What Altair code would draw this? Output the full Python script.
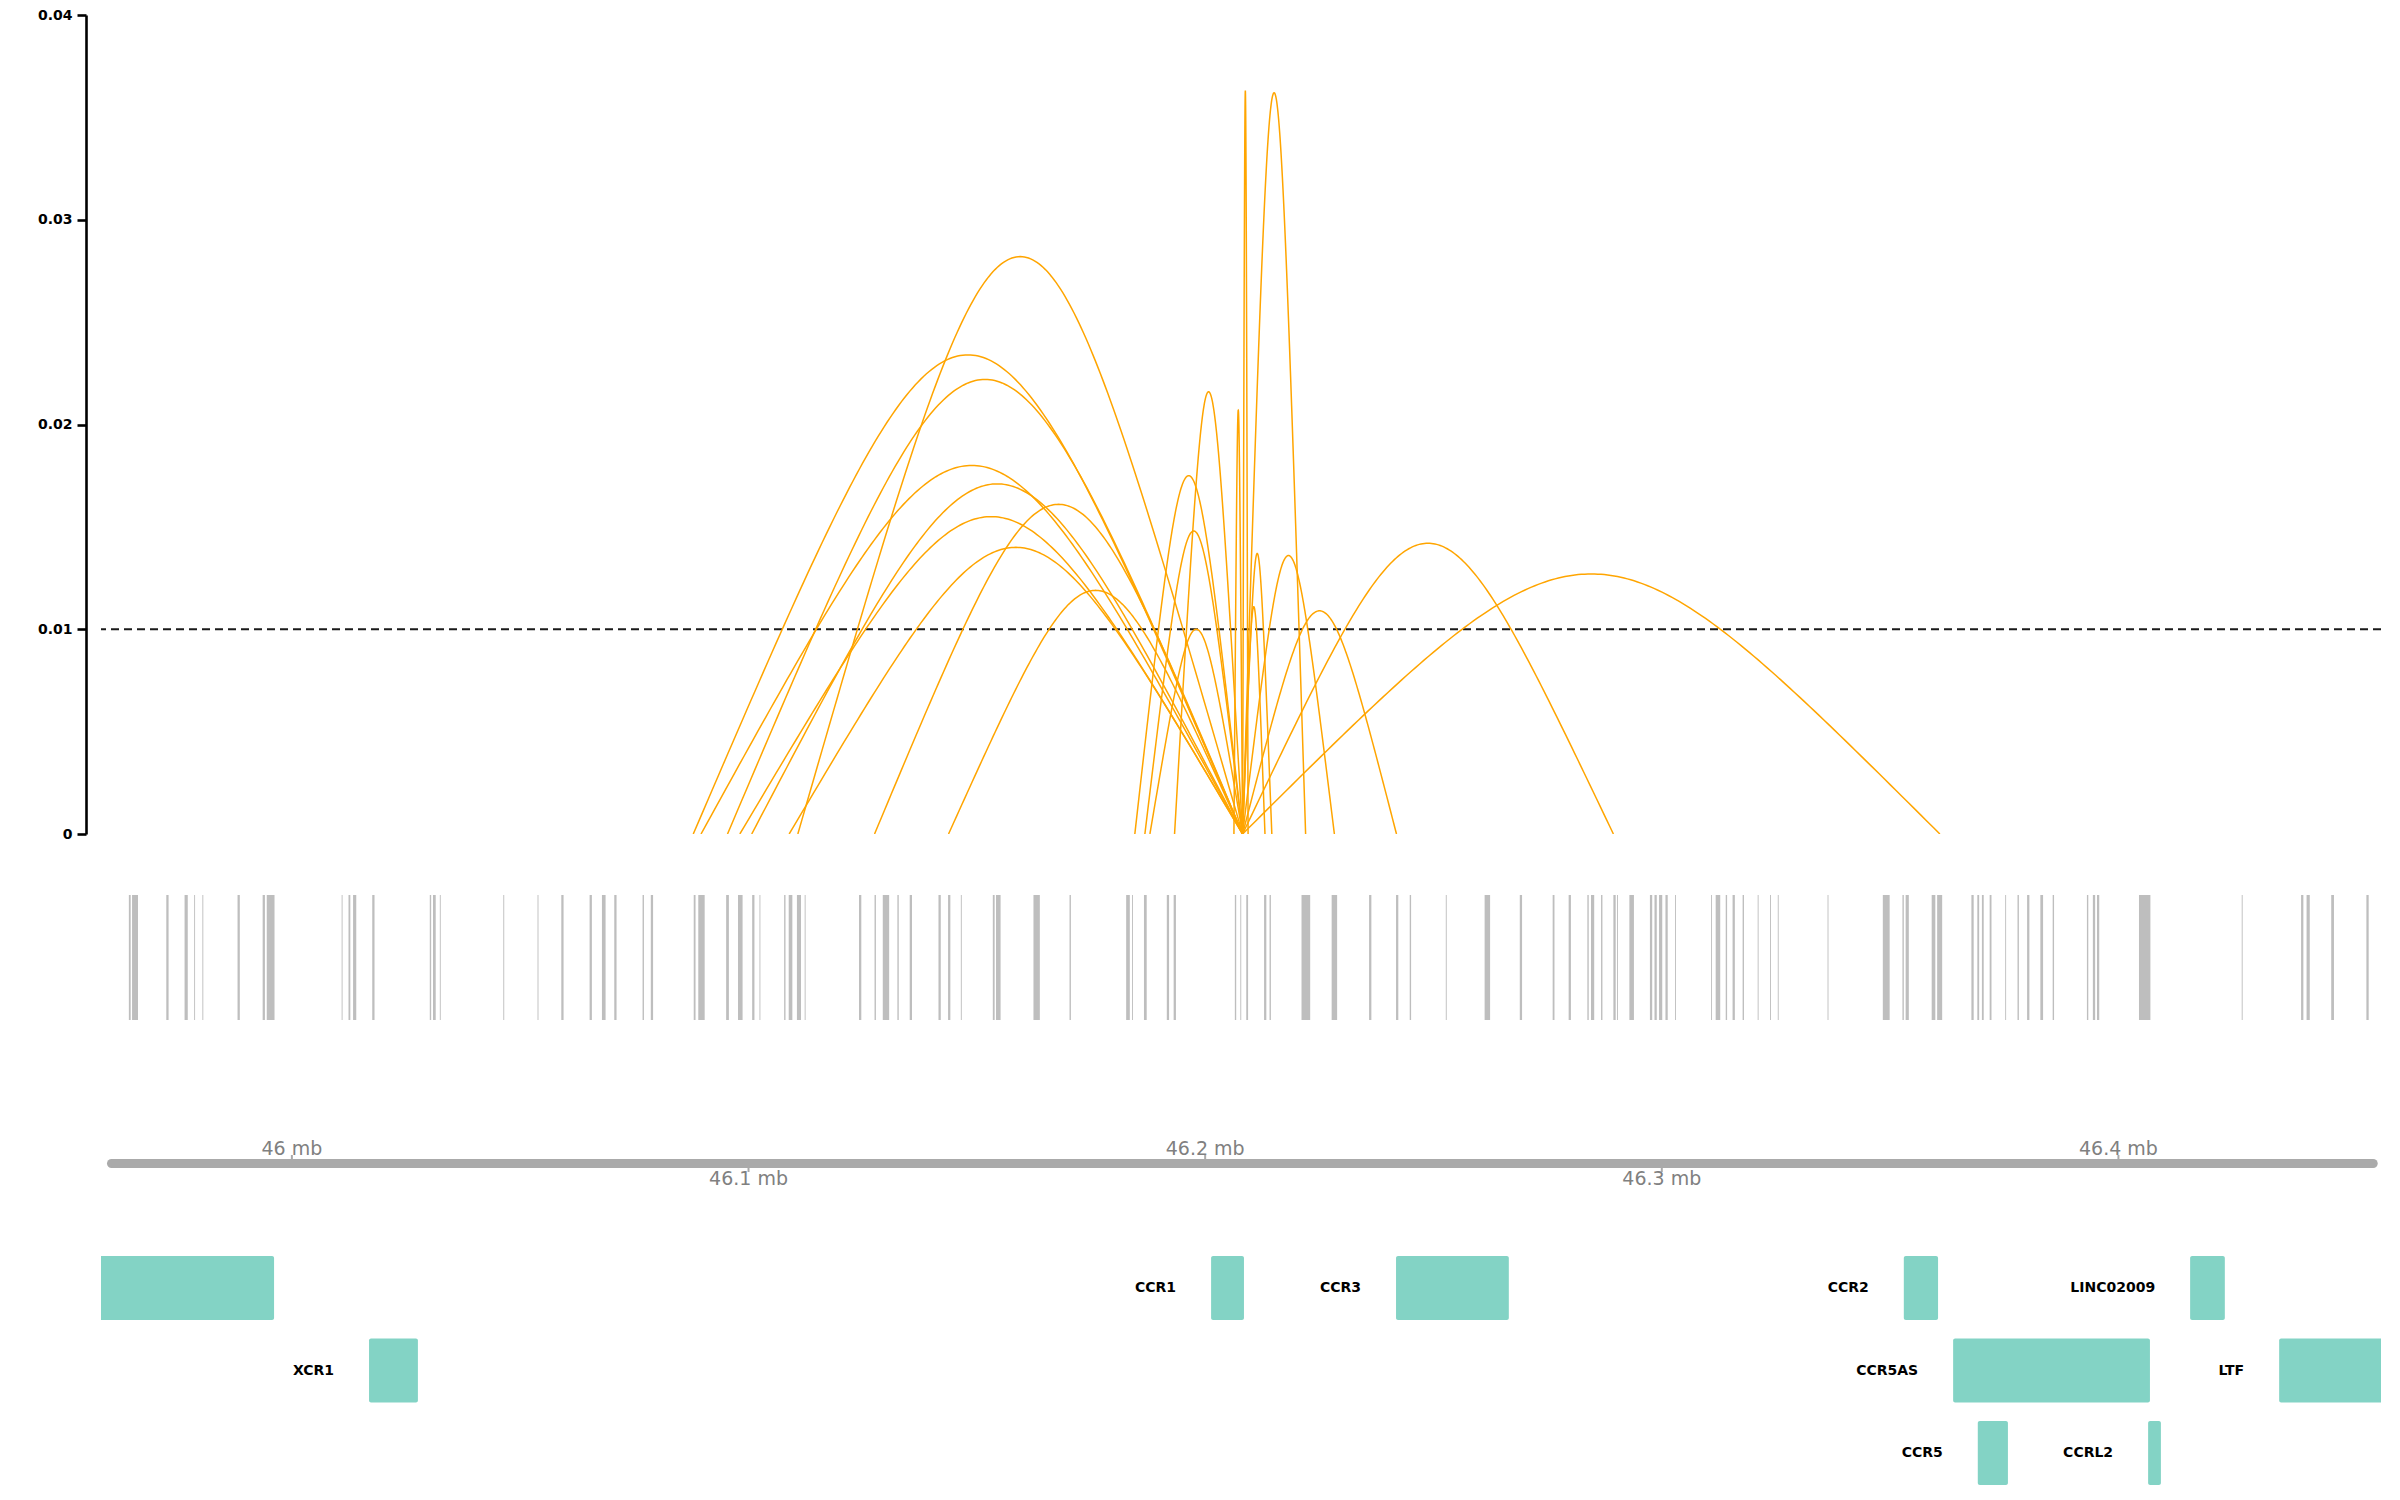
import altair as alt
import numpy as np
import pandas as pd

BASE_KB = 46000.0          # positions below are kb offsets from 46 Mb
X_MIN, X_MAX = -41.8, 457.5

# ---- interaction arcs: every arc shares one anchor -------------------------
anchor_kb = 208.2
arc_other_kb = [87.9, 89.6, 95.4, 98.1, 100.7, 108.9, 110.8, 127.6, 143.8,
                184.6, 186.8, 187.9, 193.3, 206.3, 209.4, 213.1, 214.6,
                222.0, 228.3, 241.9, 289.4, 360.9]
arc_peak = [0.0234, 0.0180, 0.0222, 0.0155, 0.0171, 0.0140, 0.0282, 0.0161, 0.0119,
            0.0175, 0.0148, 0.0100, 0.0216, 0.0207, 0.0363, 0.0111, 0.0137,
            0.0362, 0.0136, 0.0109, 0.0142, 0.0127]
threshold = [0.01]
y_ticks = [0, 0.01, 0.02, 0.03, 0.04]

# ---- variant track (grey bars) ---------------------------------------------
snp_start = [-35.7, -35.0, -27.5, -23.5, -21.4, -19.6, -11.9, -6.4, -5.5, 10.9, 12.4, 13.4,
             17.6, 30.2, 30.9, 32.4, 46.3, 53.8, 59.0, 65.2, 67.9, 70.6, 76.8, 78.6, 88.0,
             89.0, 95.1, 97.7, 100.8, 102.4, 107.8, 108.8, 110.6, 112.3, 124.2, 127.6, 129.4,
             132.6, 135.3, 141.6, 143.7, 146.5, 153.5, 154.2, 162.4, 170.3, 182.7, 184.0,
             186.6, 191.6, 193.1, 206.5, 207.7, 209.0, 212.9, 214.1,
             221.1, 227.7, 235.9, 241.8, 244.8, 252.7, 261.2, 268.9, 276.1, 279.6, 283.7,
             284.5, 286.7, 289.4, 290.2, 292.9, 297.4, 298.4, 299.4, 300.8, 302.9, 310.8,
             311.8, 314.0, 315.5, 317.7, 321.0, 323.7, 325.4, 336.3, 348.4, 352.7, 353.4,
             359.1, 360.3, 367.8, 369.1, 370.1, 371.8, 375.2, 377.9, 380.0, 382.9, 385.6,
             393.1, 394.4, 395.3, 404.5, 427.0, 440.0, 441.2, 446.6, 454.3]
snp_end = [-35.3, -33.7, -27.0, -22.8, -21.2, -19.4, -11.4, -5.9, -3.8, 11.1, 12.8, 14.1,
           18.1, 30.5, 31.5, 32.6, 46.5, 54.0, 59.5, 65.7, 68.7, 71.1, 77.1, 79.1, 88.4,
           90.4, 95.7, 98.7, 101.3, 102.6, 108.1, 109.6, 111.5, 112.5, 124.7, 127.9, 130.8,
           132.9, 135.8, 142.1, 144.2, 146.7, 153.9, 155.2, 163.8, 170.6, 183.5, 184.2,
           187.2, 192.1, 193.6, 206.8, 207.9, 209.4, 213.4, 214.4,
           223.0, 228.9, 236.4, 242.3, 245.1, 252.9, 262.4, 269.4, 276.5, 280.1, 284.0,
           285.2, 287.0, 289.9, 290.4, 293.9, 297.9, 298.9, 300.1, 301.3, 303.1, 311.0,
           312.8, 314.3, 316.0, 318.0, 321.2, 323.9, 325.6, 336.5, 349.9, 353.0, 354.1,
           359.9, 361.4, 368.3, 369.5, 370.5, 372.2, 375.4, 378.2, 380.5, 383.5, 385.9,
           393.4, 394.9, 395.8, 407.0, 427.2, 440.5, 441.9, 447.2, 454.8]

# ---- genome axis -----------------------------------------------------------
axis_start, axis_end = -39.5, 455.8
tick_kb = [0, 100, 200, 300, 400]
tick_label = ["46 mb", "46.1 mb", "46.2 mb", "46.3 mb", "46.4 mb"]
tick_side = [0, 1, 0, 1, 0]          # 0 = label above line, 1 = below

# ---- genes -----------------------------------------------------------------
gene_name = ["FYCO1", "XCR1", "CCR1", "CCR3", "CCR2", "CCR5AS", "CCR5", "CCRL2", "LINC02009", "LTF"]
gene_start = [-82.1, 16.9, 201.3, 241.8, 353.0, 363.8, 369.2, 406.5, 415.7, 435.2]
gene_end = [-3.9, 27.6, 208.5, 266.5, 360.5, 406.9, 375.8, 409.3, 423.3, 485.0]
gene_row = [0, 1, 0, 0, 0, 1, 2, 2, 0, 1]

# ---------------------------------------------------------------------------
t = np.linspace(0.0, 1.0, 161)
rows = []
for i, (o, p) in enumerate(zip(arc_other_kb, arc_peak)):
    a, b = min(o, anchor_kb), max(o, anchor_kb)
    m = (a + b) / 2.0
    h = p / 0.75
    xs = a * (1 - t) ** 3 + 3 * m * t * (1 - t) ** 2 + 3 * m * t ** 2 * (1 - t) + b * t ** 3
    ys = 3 * h * t * (1 - t)
    for tt, xx, yy in zip(t, xs, ys):
        rows.append({"arc": i, "t": tt, "x": BASE_KB + xx, "y": yy})
arc_df = pd.DataFrame(rows)

xdom = [BASE_KB + X_MIN, BASE_KB + X_MAX]
x_scale = alt.Scale(domain=xdom, nice=False, zero=False)
W = 2280
H_TOP = 819
H_BOT = 591
no_frame = alt.ViewBackground(stroke="transparent", strokeWidth=0)

arcs = alt.Chart(arc_df).mark_line(color="#FFA500", strokeWidth=1.5, clip=True).encode(
    x=alt.X("x:Q", scale=x_scale, axis=None),
    y=alt.Y("y:Q", scale=alt.Scale(domain=[0, 0.04], nice=False, zero=True),
            axis=alt.Axis(values=y_ticks, format=".2~f", title=None, grid=False, offset=15,
                          domainColor="black", domainWidth=2.6, tickColor="black", tickWidth=2.6,
                          tickSize=9, labelPadding=5, labelFont="DejaVu Sans", labelFontSize=14,
                          labelFontWeight="bold", labelColor="black")),
    detail="arc:N",
    order="t:Q",
)
thr = alt.Chart(pd.DataFrame({"y": threshold})).mark_rule(
    color="#1a1a1a", strokeDash=[8, 5], strokeWidth=2).encode(y="y:Q")
top = alt.layer(thr, arcs).properties(width=W, height=H_TOP, view=no_frame)

# bottom panel: y in pixels from panel top (layout)
yb = alt.Scale(domain=[0, H_BOT], reverse=True, nice=False, zero=False)

snp_df = pd.DataFrame({"s": [BASE_KB + v for v in snp_start], "e": [BASE_KB + v for v in snp_end]})
snps = alt.Chart(snp_df).mark_rect(color="#bebebe", clip=True).encode(
    x=alt.X("s:Q", scale=x_scale, axis=None), x2="e:Q",
    y=alt.value(0), y2=alt.value(125))

axis_df = pd.DataFrame({"s": [BASE_KB + axis_start], "e": [BASE_KB + axis_end]})
axis_line = alt.Chart(axis_df).mark_rule(color="#aaaaaa", strokeWidth=9, strokeCap="round").encode(
    x=alt.X("s:Q", scale=x_scale, axis=None), x2="e:Q", y=alt.value(268.5))

tick_df = pd.DataFrame({"pos": [BASE_KB + v for v in tick_kb], "label": tick_label, "side": tick_side})
tick_marks = alt.Chart(tick_df).transform_calculate(
    y1="datum.side == 0 ? 260 : 272", y2="datum.side == 0 ? 265 : 277"
).mark_rule(color="#aaaaaa", strokeWidth=2).encode(
    x=alt.X("pos:Q", scale=x_scale, axis=None),
    y=alt.Y("y1:Q", scale=yb, axis=None), y2="y2:Q")
tick_text = alt.Chart(tick_df).transform_calculate(
    ty="datum.side == 0 ? 254 : 284"
).mark_text(font="DejaVu Sans", fontSize=19, color="#808080", align="center", baseline="middle").encode(
    x=alt.X("pos:Q", scale=x_scale, axis=None),
    y=alt.Y("ty:Q", scale=yb, axis=None), text="label:N")

gene_df = pd.DataFrame({"name": gene_name, "s": [BASE_KB + v for v in gene_start],
                        "e": [BASE_KB + v for v in gene_end], "row": gene_row})
gene_boxes = alt.Chart(gene_df).transform_calculate(
    top="361 + datum.row * 82.5", bot="361 + datum.row * 82.5 + 64"
).mark_rect(color="#83d3c5", cornerRadius=2, clip=True).encode(
    x=alt.X("s:Q", scale=x_scale, axis=None), x2="e:Q",
    y=alt.Y("top:Q", scale=yb, axis=None), y2="bot:Q")
# labels sit left of each gene; a label whose gene starts off the panel is not shown
gene_text = alt.Chart(gene_df).transform_filter(
    alt.datum.s > xdom[0]
).transform_calculate(
    mid="361 + datum.row * 82.5 + 32"
).mark_text(font="DejaVu Sans", fontSize=14, fontWeight="bold", color="black",
            align="right", baseline="middle", dx=-35, clip=True).encode(
    x=alt.X("s:Q", scale=x_scale, axis=None),
    y=alt.Y("mid:Q", scale=yb, axis=None), text="name:N")

bottom = alt.layer(snps, axis_line, tick_marks, tick_text, gene_boxes, gene_text).properties(
    width=W, height=H_BOT, view=no_frame)

chart = alt.vconcat(top, bottom, spacing=61, bounds="flush").properties(
    padding={"left": 29, "top": 0, "right": 0, "bottom": 0}, background="white"
).configure_view(stroke="transparent", strokeWidth=0)

chart.save("out.html", embed_options={"renderer": "svg", "actions": False})
